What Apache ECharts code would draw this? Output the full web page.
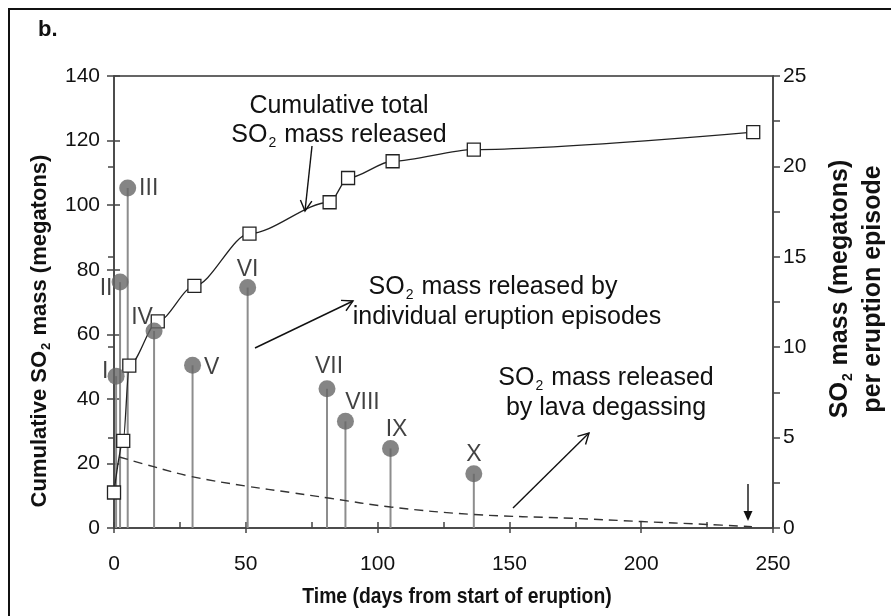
<!DOCTYPE html>
<html>
<head>
<meta charset="utf-8">
<script src="https://cdn.jsdelivr.net/npm/echarts@6/dist/echarts.min.js"></script>
<style>
  html, body { margin: 0; padding: 0; background: #fff; }
  #chart { width: 891px; height: 616px; }
</style>
</head>
<body>
<div id="chart"></div>
<script>
// Cumulative total SO2 mass released (megatons, left axis)
const cumDays = [0, 3.5, 5.8, 16.6, 30.5, 51.4, 81.8, 88.8, 105.7, 136.5, 242.5];
const cumMass = [11, 27, 50.3, 64, 75, 91.2, 100.9, 108.4, 113.6, 117.2, 122.6];

// SO2 mass released by individual eruption episodes (megatons, right axis)
const episodeNames = ['I', 'II', 'III', 'IV', 'V', 'VI', 'VII', 'VIII', 'IX', 'X'];
const episodeDays = [0.8, 2.3, 5.2, 15.2, 29.8, 50.7, 80.8, 87.8, 104.9, 136.5];
const episodeMass = [8.4, 13.6, 18.8, 10.9, 9.0, 13.3, 7.7, 5.9, 4.4, 3.0];

// SO2 mass released by lava degassing (megatons, left axis)
const lavaDays = [2, 15, 29, 50, 67, 82, 105, 136, 174, 200, 225, 242];
const lavaMass = [22, 19, 16, 13, 11, 9.2, 6.5, 4.2, 3.0, 2.0, 1.1, 0.4];

// Axis ticks
const xTicks = [0, 50, 100, 150, 200, 250];
const leftTicks = [0, 20, 40, 60, 80, 100, 120, 140];
const rightTicks = [0, 5, 10, 15, 20, 25];

// Label placement for the episode numerals (pixel offset from the marker centre)
const episodeLabelOffset = [[-11, -4], [-14, 7], [21, 1], [-12, -13], [19, 2],
                            [0, -18], [2, -22], [17, -19], [6, -19], [0, -19]];

const FONT = '"Liberation Sans", Arial, Helvetica, sans-serif';
const INK = '#111';
const AXIS = '#444';

const zip = (a, b) => a.map((v, i) => [v, b[i]]);

function span(ticks) {
  return { min: ticks[0], max: ticks[ticks.length - 1], interval: ticks[1] - ticks[0] };
}

// Rich text helpers for the SO2 subscript
function richStyles(size, weight) {
  return {
    n: { fontSize: size, fontWeight: weight, fontFamily: FONT, color: INK, lineHeight: Math.round(size * 1.2) },
    s: { fontSize: Math.round(size * 0.58), fontWeight: weight, fontFamily: FONT, color: INK, verticalAlign: 'bottom', padding: [0, 1, 0, 1] }
  };
}
function so2(before, after) {
  return (before ? '{n|' + before + '}' : '') + '{n|SO}{s|2}{n|' + after + '}';
}

function label(text, x, y, size, opts) {
  opts = opts || {};
  return {
    type: 'text', x: x, y: y,
    rotation: opts.rotation || 0,
    scaleX: opts.scaleX || 1,
    z: 100,
    style: {
      text: text,
      rich: richStyles(size, opts.weight || 'normal'),
      font: (opts.weight || 'normal') + ' ' + size + 'px ' + FONT,
      fill: INK,
      textAlign: opts.align || 'center',
      textVerticalAlign: 'middle'
    }
  };
}

// Straight arrow; open V head by default, filled triangle when requested
function arrow(x1, y1, x2, y2, filled) {
  const ang = Math.atan2(y2 - y1, x2 - x1);
  const L = filled ? 11 : 12, w = filled ? 0.42 : 0.5;
  const p1 = [x2 - L * Math.cos(ang - w), y2 - L * Math.sin(ang - w)];
  const p2 = [x2 - L * Math.cos(ang + w), y2 - L * Math.sin(ang + w)];
  const els = [{
    type: 'line', z: 100,
    shape: { x1: x1, y1: y1, x2: filled ? x2 - L * Math.cos(ang) * 0.8 : x2, y2: filled ? y2 - L * Math.sin(ang) * 0.8 : y2 },
    style: { stroke: INK, lineWidth: 1.4 }
  }];
  if (filled) {
    els.push({ type: 'polygon', z: 100, shape: { points: [p1, [x2, y2], p2] }, style: { fill: INK } });
  } else {
    els.push({ type: 'polyline', z: 100, shape: { points: [p1, [x2, y2], p2] }, style: { stroke: INK, lineWidth: 1.4, fill: null } });
  }
  return els;
}

const tickLabel = { fontSize: 21, color: INK, fontFamily: FONT };
const lineStyle = { color: AXIS, width: 1.5 };

const chart = echarts.init(document.getElementById('chart'), null, { renderer: 'canvas' });

const graphics = [
  // figure frame
  { type: 'rect', z: 100, shape: { x: 9, y: 9, width: 1000, height: 1000 }, style: { stroke: '#111', lineWidth: 2, fill: null } },
  label('b.', 38, 30, 22, { weight: 'bold', align: 'left' }),
  // axis titles
  label(so2('Cumulative ', ' mass (megatons)'), 40, 331, 22, { weight: 'bold', rotation: Math.PI / 2 }),
  label(so2('', ' mass (megatons)'), 840, 289, 25, { weight: 'bold', rotation: Math.PI / 2 }),
  label('{n|per eruption episode}', 873, 289, 25, { weight: 'bold', rotation: Math.PI / 2 }),
  label('{n|Time (days from start of eruption)}', 457, 597, 22, { weight: 'bold', scaleX: 0.88 }),
  // annotations
  label('{n|Cumulative total}', 339, 106, 25),
  label(so2('', ' mass released'), 339, 135, 25),
  label(so2('', ' mass released by'), 493, 287, 25),
  label('{n|individual eruption episodes}', 507, 317, 25),
  label(so2('', ' mass released'), 606, 378, 25),
  label('{n|by lava degassing}', 606, 408, 25)
]
  .concat(arrow(312, 146, 305, 211))
  .concat(arrow(255, 348, 353, 301))
  .concat(arrow(513, 508, 589, 433))
  .concat(arrow(748, 484, 748, 521, true));

const option = {
  animation: false,
  backgroundColor: '#fff',
  textStyle: { fontFamily: FONT },
  grid: {
    left: 114, right: 118, top: 76, bottom: 88,
    show: true, borderColor: '#333', borderWidth: 1.5, backgroundColor: 'transparent'
  },
  xAxis: [
    Object.assign({
      type: 'value', position: 'bottom',
      axisLine: { show: true, onZero: false, lineStyle: lineStyle },
      axisTick: { show: true, inside: true, length: 6, lineStyle: lineStyle },
      minorTick: { show: true, splitNumber: 2, length: 6, lineStyle: lineStyle },
      axisLabel: Object.assign({ margin: 26 }, tickLabel),
      splitLine: { show: false }
    }, span(xTicks)),
    Object.assign({
      type: 'value', position: 'bottom',
      axisLine: { show: false },
      axisTick: { show: true, inside: false, length: 5, lineStyle: lineStyle },
      axisLabel: { show: false },
      splitLine: { show: false }
    }, span(xTicks))
  ],
  yAxis: [
    Object.assign({
      type: 'value', position: 'left',
      axisLine: { show: true, onZero: false, lineStyle: lineStyle },
      axisTick: { show: true, inside: false, length: 7, lineStyle: lineStyle },
      axisLabel: Object.assign({ margin: 14 }, tickLabel),
      splitLine: { show: false }
    }, span(leftTicks)),
    Object.assign({
      type: 'value', position: 'right',
      axisLine: { show: true, onZero: false, lineStyle: lineStyle },
      axisTick: { show: true, inside: false, length: 7, lineStyle: lineStyle },
      minorTick: { show: true, splitNumber: 2, length: 7, lineStyle: lineStyle },
      axisLabel: Object.assign({ margin: 10 }, tickLabel),
      splitLine: { show: false }
    }, span(rightTicks)),
    Object.assign({
      type: 'value', position: 'left',
      axisLine: { show: false },
      axisTick: { show: true, inside: true, length: 6, lineStyle: lineStyle },
      axisLabel: { show: false },
      splitLine: { show: false }
    }, span(leftTicks)),
    Object.assign({
      type: 'value', position: 'right',
      axisLine: { show: false },
      axisTick: { show: true, inside: true, length: 6, lineStyle: lineStyle },
      axisLabel: { show: false },
      splitLine: { show: false }
    }, span(rightTicks))
  ],
  series: [
    {
      name: 'Episode stems', type: 'bar', xAxisIndex: 0, yAxisIndex: 1,
      data: zip(episodeDays, episodeMass),
      barWidth: 2, itemStyle: { color: '#8d8d8d' }, z: 2, silent: true
    },
    {
      name: 'Lava degassing', type: 'line', xAxisIndex: 0, yAxisIndex: 0,
      data: zip(lavaDays, lavaMass), smooth: 0.4, showSymbol: false,
      lineStyle: { color: '#333', width: 1.4, type: [9, 6] }, z: 2
    },
    {
      name: 'Cumulative total', type: 'line', xAxisIndex: 0, yAxisIndex: 0,
      data: zip(cumDays, cumMass), smooth: 0.3, smoothMonotone: 'x',
      symbol: 'rect', symbolSize: 13, showAllSymbol: true,
      itemStyle: { color: '#fff', borderColor: '#222', borderWidth: 1.3 },
      lineStyle: { color: '#222', width: 1.3 }, z: 3
    },
    {
      name: 'Eruption episodes', type: 'scatter', xAxisIndex: 0, yAxisIndex: 1,
      symbol: 'circle', symbolSize: 17,
      itemStyle: { color: '#676767' }, z: 4,
      data: episodeDays.map((d, i) => ({
        value: [d, episodeMass[i]],
        label: {
          show: true, position: 'inside', formatter: episodeNames[i],
          offset: episodeLabelOffset[i],
          color: INK, fontSize: 23, fontFamily: FONT
        }
      }))
    }
  ],
  graphic: graphics
};

chart.setOption(option);
</script>
</body>
</html>
